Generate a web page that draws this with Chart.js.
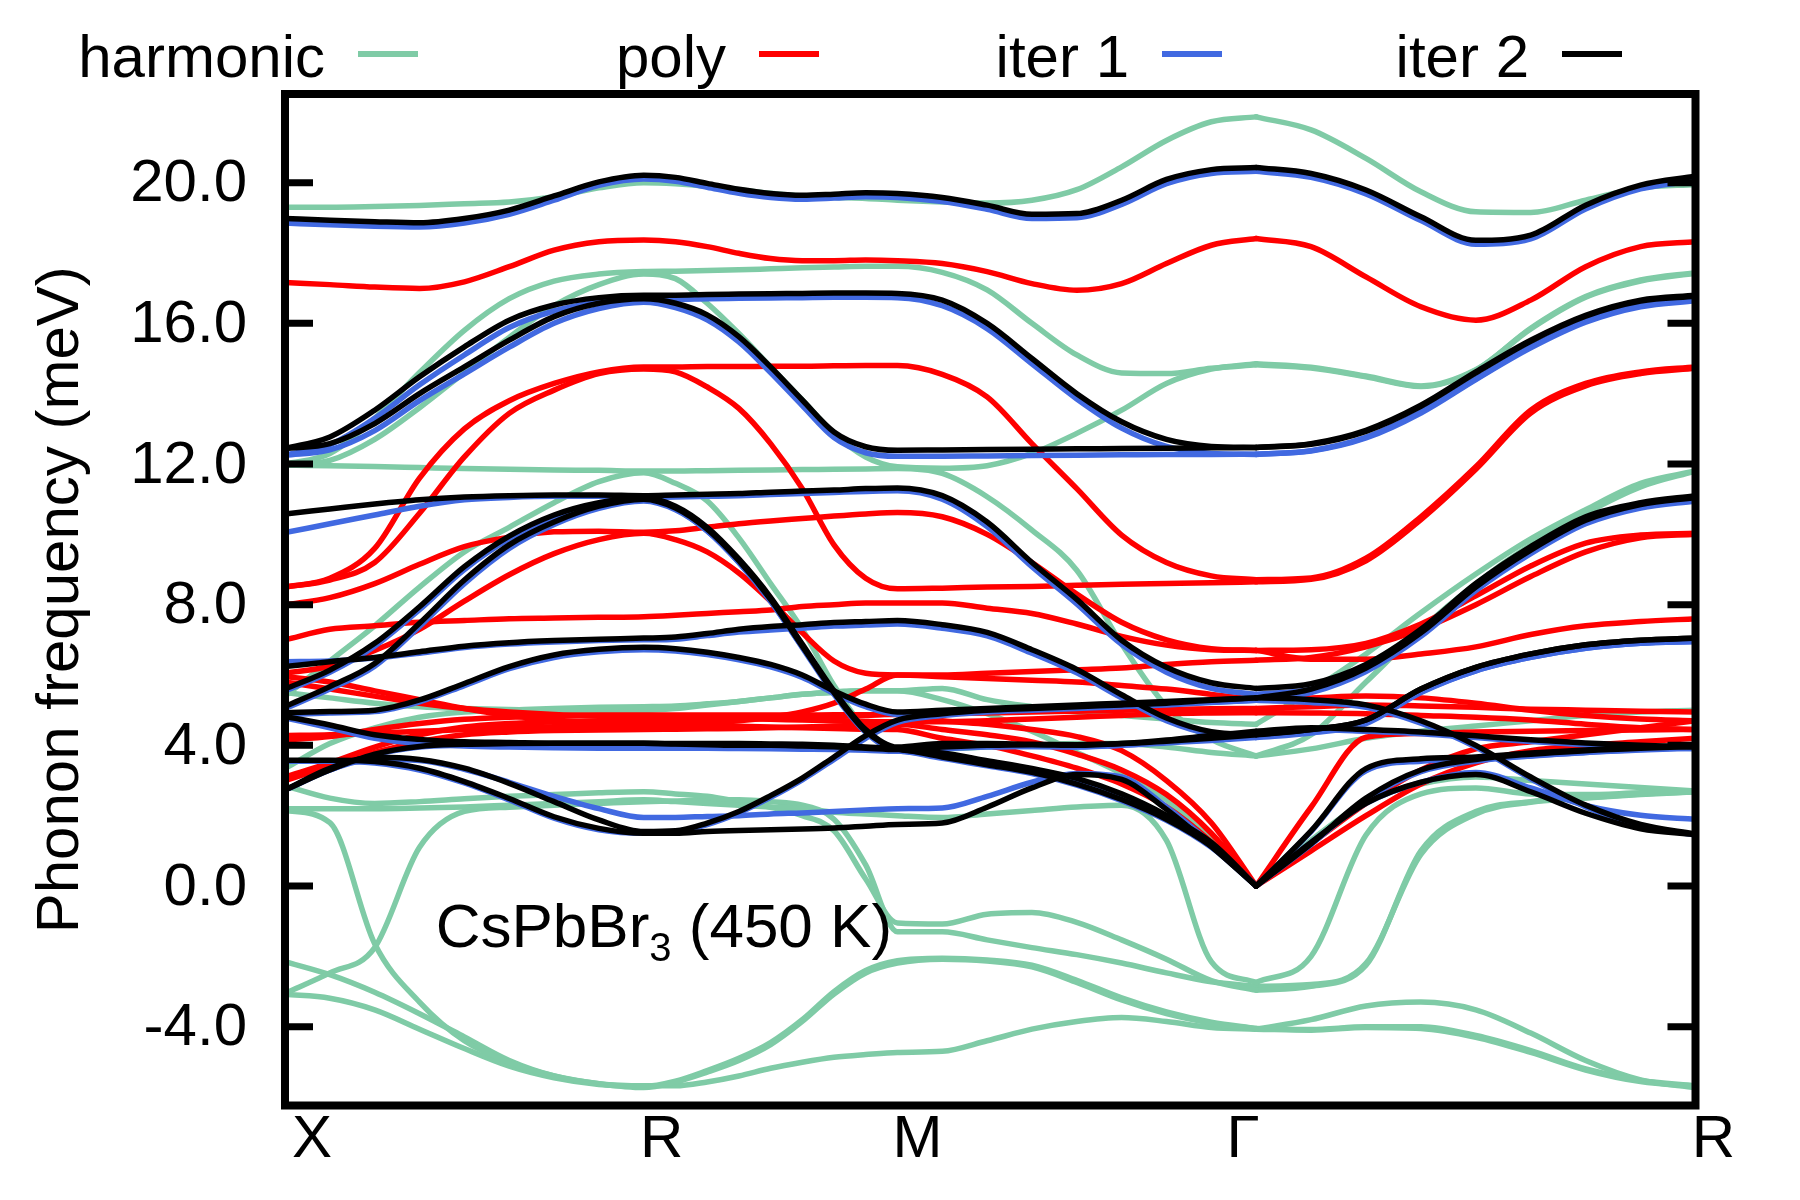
<!DOCTYPE html>
<html>
<head>
<meta charset="utf-8">
<title>CsPbBr3 phonon dispersion</title>
<script src="https://cdn.jsdelivr.net/npm/chart.js@4.4.0/dist/chart.umd.min.js"></script>
<style>
  html, body { margin: 0; padding: 0; background: #fff; }
</style>
</head>
<body>
<canvas id="bands" width="1800" height="1200"></canvas>
<script>
// path X-R-M-G-R (cumulative |k|, 2pi/a units) and its labels
const kTicks = [0, 0.7071, 1.2071, 1.9142, 2.7802];
const kLabels = ['X', 'R', 'M', 'Γ', 'R'];
const yTicks = [-4, 0, 4, 8, 12, 16, 20];
const seriesNames = ['harmonic', 'poly', 'iter 1', 'iter 2'];

// band energies (meV), read at 8 steps per path segment:
// 9 values X..R | 8 values to M | 8 values to G | 8 values to R
const harmonic = [
  [19.3,19.3,19.32,19.35,19.4,19.45,19.6,19.85,20.0, 19.97,19.9,19.8,19.7,19.62,19.58,19.55,19.5, 19.45,19.42,19.5,19.8,20.45,21.2,21.73,21.87, 21.5,20.69,19.74,19.17,19.15,19.5,19.85,19.95],
  [12.0,12.3,13.3,14.6,15.8,16.7,17.2,17.4,17.47, 17.48,17.5,17.52,17.55,17.58,17.6,17.62,17.62, 17.45,16.95,16.0,15.1,14.59,14.57,14.72,14.82, 14.73,14.48,14.2,14.67,15.86,16.76,17.23,17.44],
  [11.95,12.1,12.7,13.6,14.6,15.6,16.5,17.1,17.4, 17.27,16.57,15.71,14.76,13.82,12.87,12.2,11.92, 11.88,11.95,12.3,12.87,13.53,14.29,14.7,14.85, 14.75,14.5,14.22,14.68,15.84,16.74,17.2,17.42],
  [11.97,11.95,11.93,11.9,11.87,11.85,11.83,11.82,11.8, 11.8,11.81,11.82,11.83,11.84,11.85,11.86,11.87, 11.73,11.07,10.12,8.98,6.88,5.11,4.17,3.7, 4.3,5.8,7.3,8.6,9.7,10.6,11.35,11.8],
  [5.4,6.4,7.4,8.5,9.5,10.2,10.9,11.5,11.75, 11.45,10.95,9.9,8.6,7.3,5.7,4.45,3.9, 3.9,3.95,4.0,4.05,4.05,3.95,3.8,3.7, 3.9,4.2,4.4,4.55,4.7,4.85,4.95,5.0],
  [3.34,4.05,4.5,4.8,4.95,5.0,5.05,5.08,5.1, 5.12,5.18,5.25,5.35,5.45,5.52,5.55,5.55, 5.62,5.3,5.1,4.95,4.85,4.75,4.65,4.6, 5.55,6.6,7.77,8.87,9.87,10.7,11.45,11.8],
  [2.2,2.2,2.2,2.22,2.25,2.3,2.35,2.4,2.45, 2.4,2.35,2.3,2.25,2.2,2.1,2.05,2.0, 1.95,2.05,2.15,2.25,2.3,1.3,-2.15,-2.74, -2.0,1.45,2.62,2.79,2.62,2.6,2.65,2.68],
  [2.85,2.5,2.35,2.4,2.48,2.55,2.6,2.65,2.68, 2.62,2.55,2.4,2.24,2.0,1.57,0.2,-1.05, -1.08,-0.8,-0.75,-1.03,-1.53,-2.08,-2.69,-2.96, -2.85,-2.25,1.0,2.12,2.4,2.51,2.62,2.68],
  [-3.05,-2.47,-1.75,1.1,2.12,2.24,2.3,2.35,2.4, 2.42,2.45,2.45,2.4,2.3,1.9,0.6,-1.3, -1.3,-1.53,-1.75,-1.95,-2.19,-2.47,-2.72,-2.85, -2.8,-2.2,0.9,2.05,2.38,2.5,2.6,2.68],
  [2.15,1.8,-1.64,-3.3,-4.4,-5.01,-5.4,-5.62,-5.73, -5.57,-5.29,-4.96,-4.51,-3.85,-3.07,-2.47,-2.19, -2.08,-2.13,-2.3,-2.74,-3.24,-3.63,-3.9,-4.07, -4.1,-4.02,-4.05,-4.3,-4.73,-5.23,-5.56,-5.7],
  [-2.15,-2.52,-3.02,-3.63,-4.29,-4.96,-5.4,-5.62,-5.68, -5.68,-5.57,-5.4,-5.18,-5.01,-4.87,-4.79,-4.73, -4.7,-4.4,-4.07,-3.85,-3.74,-3.85,-4.02,-4.07, -3.8,-3.41,-3.3,-3.52,-4.18,-4.96,-5.51,-5.73],
  [-3.08,-3.19,-3.52,-4.07,-4.62,-5.12,-5.45,-5.64,-5.7, -5.55,-5.25,-4.9,-4.45,-3.8,-3.0,-2.4,-2.12, -2.05,-2.1,-2.25,-2.68,-3.18,-3.58,-3.87,-4.05, -4.08,-4.0,-4.0,-4.25,-4.68,-5.2,-5.53,-5.68],
  [5.5,5.35,5.2,5.1,5.05,5.02,5.0,5.0,5.0, 5.05,5.15,5.25,5.35,5.45,5.5,5.55,5.55, 5.3,4.9,4.4,3.8,3.2,2.45,1.3,0, 1.3,2.4,2.9,3.1,3.0,2.9,2.8,2.7]
];

const poly = [
  [17.16,17.1,17.03,16.99,17.18,17.61,18.08,18.32,18.37, 18.32,18.18,17.99,17.84,17.78,17.78,17.8,17.78, 17.7,17.47,17.13,16.94,17.13,17.7,18.22,18.41, 18.18,17.32,16.47,16.09,16.66,17.61,18.18,18.32],
  [8.5,8.75,9.6,11.6,13.0,13.8,14.29,14.62,14.76, 14.76,14.77,14.77,14.78,14.78,14.79,14.8,14.8, 14.55,13.91,12.58,11.3,9.98,9.2,8.82,8.71, 8.76,9.32,10.5,11.92,13.53,14.29,14.62,14.76],
  [8.5,8.7,9.2,10.6,12.2,13.44,14.1,14.57,14.7, 14.62,14.19,13.58,12.58,11.3,9.7,8.75,8.45, 8.47,8.5,8.52,8.55,8.58,8.6,8.62,8.65, 8.72,9.25,10.42,11.85,13.45,14.22,14.57,14.72],
  [7.99,8.2,8.6,9.15,9.65,9.92,10.07,10.09,10.06, 10.1,10.2,10.3,10.38,10.45,10.52,10.58,10.62, 10.5,10.0,9.2,8.3,7.5,7.0,6.75,6.7, 6.72,6.9,7.45,8.25,9.1,9.75,9.98,10.03],
  [7.0,7.3,7.4,7.5,7.55,7.6,7.62,7.64,7.66, 7.7,7.75,7.8,7.85,7.95,8.0,8.05,8.05, 8.05,7.9,7.75,7.45,7.1,6.85,6.72,6.7, 6.45,6.45,6.6,6.8,7.15,7.4,7.52,7.6],
  [6.05,6.25,6.7,7.3,8.1,8.85,9.45,9.85,10.03, 9.85,9.5,8.9,8.1,7.2,6.4,6.05,6.0, 6.0,6.05,6.1,6.15,6.2,6.3,6.38,6.42, 6.5,6.8,7.3,8.0,8.8,9.5,9.9,10.0],
  [5.96,5.8,5.55,5.3,5.05,4.85,4.72,4.65,4.62, 4.62,4.65,4.7,4.8,4.95,5.2,5.6,6.0, 5.95,5.9,5.85,5.8,5.7,5.6,5.45,5.3, 5.35,5.4,5.35,5.2,5.0,4.85,4.75,4.7],
  [5.8,5.6,5.4,5.2,5.05,4.95,4.88,4.84,4.82, 4.8,4.78,4.76,4.74,4.72,4.7,4.68,4.67, 4.67,4.7,4.75,4.8,4.85,4.9,4.92,4.93, 4.92,4.9,4.85,4.8,4.72,4.6,4.5,4.45],
  [4.15,4.25,4.45,4.62,4.74,4.8,4.84,4.86,4.86, 4.86,4.86,4.86,4.86,4.86,4.87,4.87,4.88, 4.9,4.92,4.95,4.97,5.0,5.02,5.04,5.05, 5.1,5.15,5.12,5.08,5.03,5.0,4.97,4.95],
  [3.1,3.5,3.95,4.3,4.52,4.62,4.67,4.7,4.7, 4.72,4.74,4.76,4.78,4.8,4.82,4.85,4.9, 4.7,4.6,4.45,4.25,3.85,3.0,1.8,0, 2.24,4.23,4.34,4.38,4.4,4.42,4.44,4.45],
  [3.0,3.4,3.8,4.1,4.3,4.38,4.42,4.44,4.45, 4.46,4.47,4.48,4.5,4.52,4.55,4.58,4.6, 4.45,4.3,4.1,3.75,3.3,2.6,1.5,0, 1.2,2.35,3.3,3.9,4.1,4.3,4.5,4.7],
  [4.28,4.3,4.35,4.4,4.45,4.5,4.53,4.55,4.56, 4.56,4.55,4.54,4.52,4.5,4.48,4.46,4.45, 4.2,4.0,3.7,3.35,2.9,2.25,1.25,0, 1.0,2.0,2.9,3.5,3.85,4.0,4.1,4.2]
];

const iter1 = [
  [18.85,18.8,18.76,18.74,18.85,19.1,19.5,19.92,20.1, 20.04,19.87,19.7,19.58,19.53,19.56,19.6,19.58, 19.46,19.24,18.98,19.0,19.38,19.97,20.26,20.32, 20.15,19.68,18.92,18.25,18.4,19.25,19.82,20.06],
  [12.25,12.55,13.3,14.25,15.1,15.88,16.35,16.6,16.68, 16.68,16.7,16.71,16.72,16.73,16.74,16.74,16.73, 16.5,15.85,14.85,13.85,13.02,12.5,12.3,12.27, 12.38,12.76,13.48,14.42,15.33,16.06,16.5,16.66],
  [12.25,12.4,12.95,13.8,14.56,15.32,16.0,16.42,16.6, 16.45,16.1,15.47,14.6,13.66,12.75,12.32,12.22, 12.22,12.23,12.24,12.25,12.26,12.27,12.27,12.28, 12.37,12.74,13.45,14.4,15.3,16.03,16.47,16.64],
  [10.05,10.3,10.55,10.8,10.98,11.05,11.08,11.08,11.05, 11.06,11.08,11.1,11.13,11.16,11.19,11.22,11.24, 11.0,10.22,9.08,8.02,6.87,6.08,5.62,5.45, 5.6,6.15,7.15,8.45,9.5,10.35,10.78,10.98],
  [5.55,6.08,6.82,7.86,9.0,9.87,10.48,10.84,10.98, 10.72,10.1,9.2,8.1,6.78,5.45,4.37,3.88, 3.98,3.98,3.97,3.96,4.0,4.07,4.14,4.22, 4.35,4.62,5.5,6.12,6.5,6.76,6.9,6.95],
  [5.05,5.6,6.25,7.38,8.6,9.6,10.28,10.74,10.95, 10.7,10.1,9.2,8.1,6.8,5.5,4.4,3.85, 3.75,3.52,3.3,3.02,2.58,1.97,1.2,0, 1.55,3.28,3.55,3.6,3.7,3.8,3.87,3.92],
  [6.38,6.4,6.48,6.62,6.78,6.88,6.94,6.98,7.0, 7.02,7.12,7.22,7.28,7.33,7.39,7.42,7.45, 7.33,7.11,6.62,6.06,5.35,4.7,4.32,4.25, 4.38,4.65,5.52,6.12,6.5,6.76,6.9,6.95],
  [4.88,4.92,4.96,5.24,5.7,6.18,6.5,6.66,6.72, 6.68,6.58,6.43,6.23,5.93,5.48,5.1,4.88, 4.93,4.98,5.03,5.08,5.13,5.18,5.23,5.28, 5.5,6.1,7.1,8.4,9.45,10.3,10.75,10.95],
  [4.78,4.5,4.2,4.05,3.98,3.95,3.93,3.92,3.92, 3.92,3.92,3.91,3.9,3.89,3.88,3.86,3.83, 3.9,3.95,3.97,3.95,4.0,4.1,4.22,4.35, 4.45,4.4,4.33,4.22,4.11,4.02,3.95,3.9],
  [2.73,3.3,3.6,3.57,3.32,2.95,2.55,2.2,1.95, 1.95,1.98,2.0,2.05,2.08,2.12,2.16,2.2, 2.22,2.55,2.95,3.2,3.1,2.25,1.2,0, 1.24,2.35,2.95,3.23,2.79,2.29,2.01,1.9],
  [3.55,3.55,3.5,3.3,2.93,2.45,1.93,1.6,1.5, 1.55,1.75,2.08,2.52,3.02,3.6,4.2,4.65, 4.85,4.95,5.0,5.05,5.1,5.15,5.22,5.28, 5.22,5.08,4.63,3.95,3.05,2.25,1.72,1.45],
  [2.73,3.3,3.73,3.95,4.0,4.02,4.03,4.03,4.03, 4.02,4.02,4.02,4.01,4.0,3.97,3.92,3.87, 3.63,3.42,3.2,2.87,2.43,1.87,1.1,0, 1.18,2.45,3.25,3.55,3.7,3.8,3.88,3.93]
];

const iter2 = [
  [18.98,18.93,18.89,18.86,18.98,19.22,19.62,20.02,20.21, 20.15,19.98,19.81,19.69,19.64,19.67,19.71,19.69, 19.58,19.36,19.1,19.12,19.5,20.09,20.37,20.43, 20.26,19.79,19.03,18.36,18.51,19.36,19.93,20.18],
  [12.44,12.77,13.53,14.48,15.33,16.09,16.52,16.73,16.8, 16.8,16.82,16.83,16.84,16.85,16.86,16.86,16.85, 16.66,16.0,15.0,14.0,13.2,12.7,12.5,12.47, 12.58,12.96,13.67,14.62,15.52,16.23,16.66,16.8],
  [12.44,12.58,13.15,14.0,14.76,15.52,16.19,16.57,16.7, 16.57,16.24,15.62,14.76,13.82,12.91,12.49,12.39, 12.4,12.41,12.42,12.43,12.44,12.45,12.46,12.47, 12.56,12.93,13.64,14.59,15.49,16.2,16.63,16.77],
  [10.58,10.72,10.86,10.98,11.06,11.1,11.12,11.12,11.1, 11.12,11.14,11.16,11.2,11.23,11.26,11.3,11.32, 11.1,10.35,9.2,8.15,6.99,6.22,5.78,5.62, 5.75,6.3,7.3,8.6,9.65,10.5,10.9,11.1],
  [5.6,6.14,6.9,7.94,9.08,9.95,10.55,10.9,11.05, 10.8,10.2,9.3,8.21,6.88,5.55,4.45,3.95, 4.05,4.05,4.03,4.02,4.05,4.12,4.2,4.3, 4.45,4.72,5.6,6.22,6.6,6.86,6.99,7.05],
  [5.1,5.67,6.33,7.47,8.7,9.7,10.35,10.8,11.0, 10.75,10.15,9.25,8.15,6.82,5.5,4.4,3.9, 3.78,3.56,3.34,3.06,2.62,2.01,1.24,0, 1.57,3.34,3.62,3.67,3.78,3.87,3.95,4.0],
  [6.24,6.38,6.5,6.66,6.82,6.92,6.98,7.02,7.05, 7.08,7.18,7.3,7.38,7.43,7.49,7.52,7.55, 7.43,7.21,6.72,6.16,5.44,4.78,4.39,4.31, 4.45,4.72,5.6,6.22,6.6,6.86,6.99,7.05],
  [4.93,4.96,5.0,5.29,5.76,6.24,6.57,6.73,6.79, 6.75,6.65,6.5,6.3,6.0,5.55,5.17,4.95, 5.0,5.05,5.1,5.15,5.2,5.25,5.3,5.35, 5.6,6.2,7.2,8.5,9.55,10.4,10.85,11.05],
  [4.82,4.58,4.3,4.17,4.1,4.08,4.06,4.06,4.06, 4.04,4.02,4.0,4.0,3.98,3.96,3.92,3.88, 3.95,4.0,4.02,4.0,4.05,4.15,4.28,4.4, 4.5,4.45,4.38,4.27,4.16,4.07,4.0,3.95],
  [3.58,3.58,3.54,3.35,2.97,2.49,1.97,1.64,1.5, 1.5,1.55,1.58,1.6,1.62,1.65,1.7,1.75, 1.79,2.24,2.79,3.17,3.03,2.18,1.13,0, 1.24,2.35,2.95,3.17,2.68,2.07,1.63,1.46],
  [2.73,3.35,3.66,3.6,3.35,2.92,2.4,1.88,1.55, 1.57,1.79,2.12,2.57,3.07,3.67,4.28,4.72, 4.9,5.0,5.05,5.1,5.15,5.2,5.28,5.35, 5.3,5.15,4.7,4.0,3.1,2.3,1.75,1.48],
  [2.73,3.3,3.75,3.97,4.03,4.05,4.06,4.06,4.06, 4.05,4.05,4.05,4.04,4.03,4.0,3.95,3.9, 3.67,3.45,3.23,2.9,2.46,1.9,1.13,0, 1.2,2.5,3.3,3.6,3.75,3.85,3.92,3.97]
];

const colors = ['#7fcba6', '#ff0000', '#4169e1', '#000000'];
const FONT = '60px "Liberation Sans", Arial, sans-serif';

// k grid: 8 steps on each segment of the path
const kpts = [0];
for (let s = 0; s < kTicks.length - 1; s++) {
  for (let j = 1; j <= 8; j++) kpts.push(kTicks[s] + (kTicks[s + 1] - kTicks[s]) * j / 8);
}
const gammaIdx = 24;

const datasets = [];
function addSeries(bands, color, order) {
  bands.forEach((b) => {
    if (b.length !== kpts.length) throw new Error('band length ' + b.length);
    // split at Gamma so the acoustic branches keep their cusp
    [[0, gammaIdx], [gammaIdx, kpts.length - 1]].forEach(([a, z]) => {
      const pts = [];
      for (let i = a; i <= z; i++) pts.push({ x: kpts[i], y: b[i] });
      datasets.push({
        data: pts,
        borderColor: color,
        borderWidth: 5.5,
        pointRadius: 0,
        fill: false,
        cubicInterpolationMode: 'monotone',
        borderCapStyle: 'round',
        borderJoinStyle: 'round',
        order: order
      });
    });
  });
}
addSeries(harmonic, colors[0], 4);
addSeries(poly, colors[1], 3);
addSeries(iter1, colors[2], 2);
addSeries(iter2, colors[3], 1);

const decor = {
  id: 'decor',
  afterDatasetsDraw(chart) {
    const { ctx, chartArea: a, scales: { x, y } } = chart;
    ctx.save();
    ctx.fillStyle = '#000';
    ctx.strokeStyle = '#000';

    // sample label inside the plot
    const ax = x.getPixelForValue(0.297), ay = y.getPixelForValue(-1.73);
    ctx.textAlign = 'left';
    ctx.textBaseline = 'alphabetic';
    ctx.font = '62px "Liberation Sans", Arial, sans-serif';
    ctx.fillText('CsPbBr', ax, ay);
    let w = ctx.measureText('CsPbBr').width;
    ctx.font = '40px "Liberation Sans", Arial, sans-serif';
    ctx.fillText('3', ax + w, ay + 14);
    w += ctx.measureText('3').width;
    ctx.font = '62px "Liberation Sans", Arial, sans-serif';
    ctx.fillText(' (450 K)', ax + w, ay);

    // frame
    ctx.lineWidth = 8;
    ctx.strokeRect(a.left, a.top, a.right - a.left, a.bottom - a.top);

    // y ticks (mirrored) and labels
    ctx.font = FONT;
    ctx.lineWidth = 7;
    ctx.textAlign = 'right';
    ctx.textBaseline = 'middle';
    yTicks.forEach((v) => {
      const py = y.getPixelForValue(v);
      ctx.beginPath();
      ctx.moveTo(a.left, py); ctx.lineTo(a.left + 28, py);
      ctx.moveTo(a.right - 28, py); ctx.lineTo(a.right, py);
      ctx.stroke();
      ctx.fillText(v.toFixed(1), a.left - 38, py + 2);
    });

    // k-point labels (gnuplot set them a little off the points)
    const shift = [27, 18, 20, -13, 18];
    ctx.textAlign = 'center';
    ctx.textBaseline = 'alphabetic';
    kTicks.forEach((k, i) => ctx.fillText(kLabels[i], x.getPixelForValue(k) + shift[i], 1157));

    // y title
    ctx.save();
    ctx.translate(78, (a.top + a.bottom) / 2);
    ctx.rotate(-Math.PI / 2);
    ctx.fillText('Phonon frequency (meV)', 0, 0);
    ctx.restore();

    // key across the top: text then sample line
    const lineStart = [358, 759, 1162, 1562];
    ctx.textAlign = 'right';
    seriesNames.forEach((name, i) => {
      ctx.fillStyle = '#000';
      ctx.fillText(name, lineStart[i] - 33, 77);
      ctx.strokeStyle = colors[i];
      ctx.lineWidth = 6;
      ctx.beginPath();
      ctx.moveTo(lineStart[i], 54);
      ctx.lineTo(lineStart[i] + 60, 54);
      ctx.stroke();
    });
    ctx.restore();
  }
};

new Chart(document.getElementById('bands'), {
  type: 'line',
  data: { datasets },
  options: {
    responsive: false,
    animation: false,
    devicePixelRatio: 1,
    events: [],
    layout: { padding: { left: 285, right: 104.5, top: 94, bottom: 94.5 } },
    plugins: { legend: { display: false }, tooltip: { enabled: false } },
    scales: {
      x: { type: 'linear', display: false, min: kTicks[0], max: kTicks[kTicks.length - 1] },
      y: { type: 'linear', display: false, min: -6.24, max: 22.52 }
    }
  },
  plugins: [decor]
});
</script>
</body>
</html>
